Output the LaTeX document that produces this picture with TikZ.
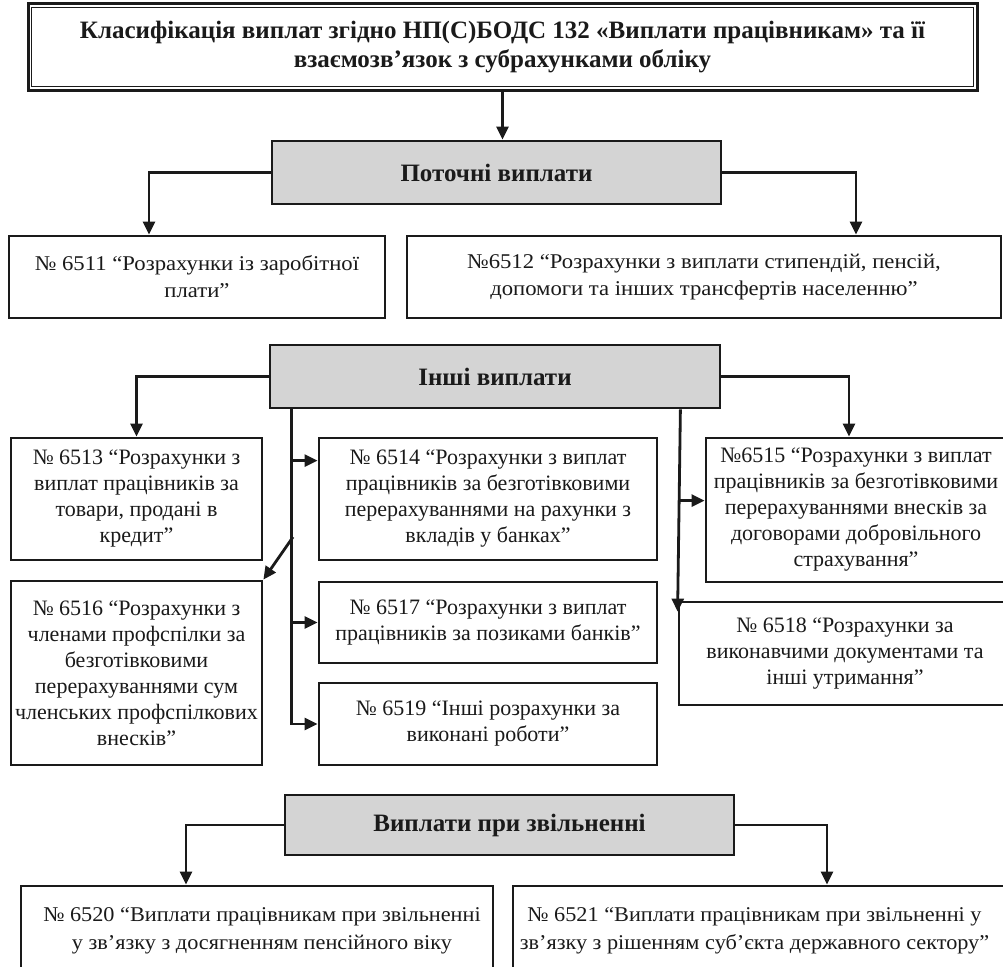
\documentclass[tikz,border=0pt]{standalone}
\usepackage{fontspec}
\setmainfont{Liberation Serif}
\newfontfamily\widA[FakeStretch=1.08]{Liberation Serif}
\newfontfamily\widB[FakeStretch=1.06]{Liberation Serif}
\usetikzlibrary{arrows.meta,calc}
\definecolor{hdrgray}{HTML}{D4D4D4}
\definecolor{inkc}{HTML}{1A1A1A}
\tikzset{
  box/.style={draw=inkc, line width=2.8pt, rectangle, inner sep=0pt, align=center, text=inkc},
  hdr/.style={box, fill=hdrgray, font=\bfseries\fontsize{25}{29}\selectfont},
  topt/.style={font=\widA\fontsize{21}{27}\selectfont},
  midt/.style={font=\fontsize{22}{26}\selectfont},
  bott/.style={font=\widB\fontsize{21}{28}\selectfont},
  arr/.style={draw=inkc, line width=2.8pt, -{Triangle[length=13pt,width=12pt]}},
  ln/.style={draw=inkc, line width=2.8pt}
}
\begin{document}
\begin{tikzpicture}[x=1pt,y=-1pt]
\clip (0,0) rectangle (1003,966);
\fill[white] (0,0) rectangle (1003,966);
% title
\node[box, line width=3pt, minimum width=949pt, minimum height=86pt, font=\bfseries\fontsize{25}{29}\selectfont] (title) at (502.5,47)
  {Класифікація виплат згідно НП(С)БОДС 132 «Виплати працівникам» та її\\взаємозв’язок з субрахунками обліку};
\draw[ln, line width=1.3pt] ([shift={(5pt,-5pt)}]title.north west) rectangle ([shift={(-5pt,5pt)}]title.south east);
% current
\node[hdr, minimum width=449pt, minimum height=63pt] (pot) at (496.5,172.5) {Поточні виплати};
\node[box, topt, minimum width=376pt, minimum height=82pt] (n6511) at (197,277)
  {№ 6511 “Розрахунки із заробітної\\плати”};
\node[box, topt, minimum width=594pt, minimum height=82pt] (n6512) at (704,277)
  {№6512 “Розрахунки з виплати стипендій, пенсій,\\допомоги та інших трансфертів населенню”};
% other
\node[hdr, minimum width=450pt, minimum height=63pt] (inshi) at (495,376.5) {Інші виплати};
\node[box, midt, minimum width=251pt, minimum height=122pt] (n6513) at (136.5,499)
  {№ 6513 “Розрахунки з\\виплат працівників за\\товари, продані в\\кредит”};
\node[box, midt, minimum width=338pt, minimum height=122pt] (n6514) at (488,499)
  {№ 6514 “Розрахунки з виплат\\працівників за безготівковими\\перерахуваннями на рахунки з\\вкладів у банках”};
\node[box, midt, minimum width=300pt, minimum height=144pt] (n6515) at (856,510)
  {№6515 “Розрахунки з виплат\\працівників за безготівковими\\перерахуваннями внесків за\\договорами добровільного\\страхування”};
\node[box, midt, minimum width=251pt, minimum height=184pt] (n6516) at (136.5,673)
  {№ 6516 “Розрахунки з\\членами профспілки за\\безготівковими\\перерахуваннями сум\\членських профспілкових\\внесків”};
\node[box, midt, minimum width=338pt, minimum height=81pt] (n6517) at (488,622.5)
  {№ 6517 “Розрахунки з виплат\\працівників за позиками банків”};
\node[box, midt, minimum width=332pt, minimum height=103pt] (n6518) at (845,653.5)
  {№ 6518 “Розрахунки за\\виконавчими документами та\\інші утримання”};
\node[box, midt, minimum width=338pt, minimum height=82pt] (n6519) at (488,724)
  {№ 6519 “Інші розрахунки за\\виконані роботи”};
% dismissal
\node[hdr, minimum width=449pt, minimum height=60pt] (zv) at (509.5,825) {Виплати при звільненні};
\node[box, bott, minimum width=472pt, minimum height=90pt] (n6520) at (257,931)
  {\hspace*{10pt}№ 6520 “Виплати працівникам при звільненні\\\hspace*{10pt}у зв’язку з досягненням пенсійного віку};
\node[box, bott, minimum width=493pt, minimum height=90pt] (n6521) at (759.5,931)
  {№ 6521 “Виплати працівникам при звільненні у\hspace*{10pt}\\зв’язку з рішенням суб’єкта державного сектору”\hspace*{10pt}};
% connectors
\draw[arr] (title.south) -- (title.south |- pot.north);
\draw[arr] (pot.west) -| ([xshift=-48pt]n6511.north);
\draw[arr] (pot.east) -| ([xshift=152pt]n6512.north);
\draw[arr] (inshi.west) -| (n6513.north);
\draw[arr] (inshi.east) -| ([xshift=-7pt]n6515.north);
\coordinate (t1) at ([xshift=23pt]inshi.south west);
\coordinate (t2) at ([xshift=-41pt]inshi.south east);
\coordinate (d1) at (293,537);
\coordinate (a14) at ([yshift=-24pt]n6514.north west);
\coordinate (a15) at ([yshift=-64pt]n6515.north west);
\draw[arr] (t1) |- (n6519.west);
\draw[arr] (t1 |- a14) -- (a14);
\draw[arr] (t1 |- n6517.west) -- (n6517.west);
\draw[arr] (d1) -- (n6516.north east);
\draw[arr] (t2) -- ([yshift=-11pt]n6518.north west);
\draw[arr] (t2 |- a15) -- (a15);
\draw[arr] (zv.west) -| ([xshift=-71pt]n6520.north);
\draw[arr] (zv.east) -| ([xshift=67.5pt]n6521.north);
\end{tikzpicture}
\end{document}
